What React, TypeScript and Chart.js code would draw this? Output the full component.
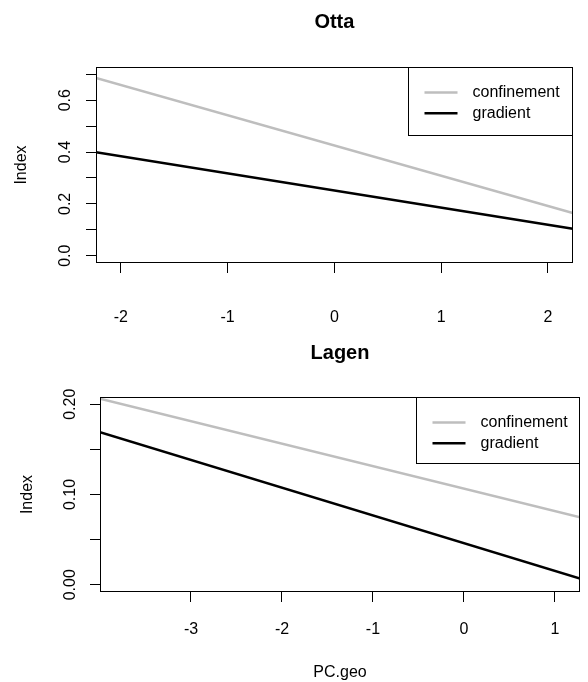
import React, { useEffect, useRef } from "react";
import { Chart, registerables } from "chart.js";

Chart.register(...registerables);

// ---- Data ----
const seriesNames = ["confinement", "gradient"];
const seriesColors = ["#BEBEBE", "#000000"];

const ottaX = [-2.233, 2.233];
const ottaConfinement = [0.686, 0.165];
const ottaGradient = [0.399, 0.104];
const ottaXTicks = [-2, -1, 0, 1, 2];
const ottaXTickLabels = ["-2", "-1", "0", "1", "2"];
const ottaYTicks = [0, 0.1, 0.2, 0.3, 0.4, 0.5, 0.6, 0.7];
const ottaYTickLabels = ["0.0", "", "0.2", "", "0.4", "", "0.6", ""];

const lagenX = [-4.0, 1.275];
const lagenConfinement = [0.206, 0.0748];
const lagenGradient = [0.169, 0.007];
const lagenXTicks = [-3, -2, -1, 0, 1];
const lagenXTickLabels = ["-3", "-2", "-1", "0", "1"];
const lagenYTicks = [0, 0.05, 0.1, 0.15, 0.2];
const lagenYTickLabels = ["0.00", "", "0.10", "", "0.20"];

const FONT = "'Liberation Sans', Arial, Helvetica, sans-serif";

const boxPlugin = {
  id: "rbox",
  afterDatasetsDraw(chart: any, _args: any, opts: any) {
    const { ctx, chartArea } = chart;
    const l = Math.round(chartArea.left) + 0.5;
    const t = Math.round(chartArea.top) + 0.5;
    const r = Math.round(chartArea.right) - 0.5;
    const b = Math.round(chartArea.bottom) - 0.5;
    ctx.save();
    ctx.strokeStyle = "#000";
    ctx.lineWidth = 1;
    ctx.strokeRect(l, t, r - l, b - t);

    // legend (R-style, top-right inside box)
    ctx.font = `16px ${FONT}`;
    const ds = chart.data.datasets;
    const w = opts.legendW;
    const h = opts.height;
    const lx = Math.round(r - w) + 0.5;
    const ly = t;
    ctx.fillStyle = "#fff";
    ctx.fillRect(lx, ly, r - lx, h);
    ctx.strokeRect(lx, ly, r - lx, h);
    ds.forEach((d: any, i: number) => {
      const rowY = ly + 25 + i * 20.8;
      ctx.strokeStyle = d.borderColor;
      ctx.lineWidth = 2.5;
      ctx.beginPath();
      ctx.moveTo(lx + 16, rowY);
      ctx.lineTo(lx + 49, rowY);
      ctx.stroke();
      ctx.fillStyle = "#000";
      ctx.textBaseline = "middle";
      ctx.textAlign = "left";
      ctx.fillText(d.label, lx + 64, rowY);
    });

    // main title
    ctx.font = `bold 20px ${FONT}`;
    ctx.fillStyle = "#000";
    ctx.textAlign = "center";
    ctx.textBaseline = "middle";
    ctx.fillText(opts.title, (chartArea.left + chartArea.right) / 2, opts.titleY);
    ctx.restore();
  },
};

function makeConfig(p: any) {
  const tickFont = { family: FONT, size: 16 };
  return {
    type: "line",
    data: {
      datasets: [
        {
          label: seriesNames[0],
          data: p.xs.map((x: number, i: number) => ({ x, y: p.conf[i] })),
          borderColor: seriesColors[0],
          borderWidth: 2.5,
          pointRadius: 0,
          tension: 0,
        },
        {
          label: seriesNames[1],
          data: p.xs.map((x: number, i: number) => ({ x, y: p.grad[i] })),
          borderColor: seriesColors[1],
          borderWidth: 2.5,
          pointRadius: 0,
          tension: 0,
        },
      ],
    },
    options: {
      responsive: false,
      animation: false,
      events: [],
      layout: { padding: { top: p.top, right: p.right, bottom: 0, left: 0 } },
      plugins: {
        legend: { display: false },
        title: { display: false },
        tooltip: { enabled: false },
        rbox: { title: p.title, titleY: p.titleY, height: p.legendH, legendW: p.legendW },
      },
      scales: {
        x: {
          type: "linear",
          min: p.xMin,
          max: p.xMax,
          afterBuildTicks: (s: any) => {
            s.ticks = p.xTicks.map((v: number) => ({ value: v }));
          },
          afterFit: (s: any) => {
            s.height = p.xAxisH;
          },
          ticks: {
            autoSkip: false,
            maxRotation: 0,
            minRotation: 0,
            padding: p.xPad,
            color: "#000",
            font: tickFont,
            callback: (_v: any, i: number) => p.xLabels[i],
          },
          grid: {
            drawOnChartArea: false,
            drawTicks: true,
            tickLength: 10,
            tickColor: "#000",
            tickWidth: 1,
          },
          border: { display: false },
          title: p.xTitle
            ? {
                display: true,
                text: p.xTitle,
                color: "#000",
                font: { family: FONT, size: 16 },
                padding: { top: 0, bottom: 0 },
              }
            : { display: false },
        },
        y: {
          type: "linear",
          min: p.yMin,
          max: p.yMax,
          afterBuildTicks: (s: any) => {
            s.ticks = p.yTicks.map((v: number) => ({ value: v }));
          },
          afterFit: (s: any) => {
            s.width = p.yAxisW;
          },
          ticks: {
            autoSkip: false,
            minRotation: 90,
            maxRotation: 90,
            crossAlign: "center",
            padding: p.yPad,
            color: "#000",
            font: tickFont,
            callback: (_v: any, i: number) => p.yLabels[i],
          },
          grid: {
            drawOnChartArea: false,
            drawTicks: true,
            tickLength: 10,
            tickColor: "#000",
            tickWidth: 1,
          },
          border: { display: false },
          title: {
            display: true,
            text: "Index",
            color: "#000",
            font: { family: FONT, size: 16 },
            padding: { top: p.yTitlePad, bottom: 0 },
          },
        },
      },
    },
    plugins: [boxPlugin],
  };
}

function Panel(props: { cfg: any; top: number }) {
  const ref = useRef<HTMLCanvasElement>(null);
  useEffect(() => {
    const chart = new Chart(ref.current as HTMLCanvasElement, makeConfig(props.cfg) as any);
    return () => chart.destroy();
  }, []);
  return (
    <canvas
      ref={ref}
      width={588}
      height={341}
      style={{ position: "absolute", left: 0, top: props.top, width: 588, height: 341 }}
    />
  );
}

const ottaCfg = {
  title: "Otta",
  titleY: 22,
  xs: ottaX,
  conf: ottaConfinement,
  grad: ottaGradient,
  xMin: -2.233,
  xMax: 2.233,
  yMin: -0.028,
  yMax: 0.728,
  xTicks: ottaXTicks,
  xLabels: ottaXTickLabels,
  yTicks: ottaYTicks,
  yLabels: ottaYTickLabels,
  top: 67,
  right: 12,
  xAxisH: 78,
  yAxisW: 96,
  xPad: 35,
  yPad: 9,
  yTitlePad: 12,
  legendH: 68,
  legendW: 165,
  xTitle: "",
};

const lagenCfg = {
  title: "Lagen",
  titleY: 12,
  xs: lagenX,
  conf: lagenConfinement,
  grad: lagenGradient,
  xMin: -4.0,
  xMax: 1.275,
  yMin: -0.008,
  yMax: 0.208,
  xTicks: lagenXTicks,
  xLabels: lagenXTickLabels,
  yTicks: lagenYTicks,
  yLabels: lagenYTickLabels,
  top: 56,
  right: 8,
  xAxisH: 90,
  yAxisW: 100,
  xPad: 18,
  yPad: 4,
  yTitlePad: 18,
  legendH: 66,
  legendW: 164,
  xTitle: "PC.geo",
};

export default function App() {
  return (
    <div style={{ position: "absolute", left: 0, top: 0, width: 588, height: 682, background: "#fff" }}>
      <Panel cfg={ottaCfg} top={0} />
      <Panel cfg={lagenCfg} top={341} />
    </div>
  );
}
